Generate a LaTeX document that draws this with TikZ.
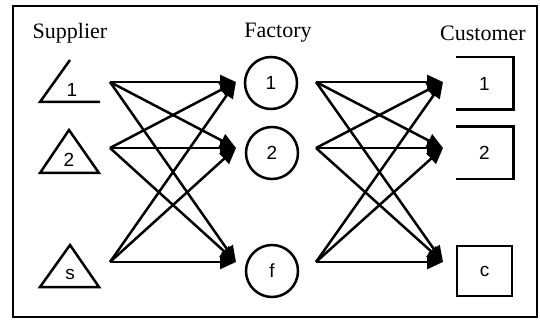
\documentclass[tikz,border=0pt]{standalone}
\usepackage{fontspec}
\setmainfont{Liberation Serif}
\newfontfamily\numfont{Liberation Sans}
\usetikzlibrary{arrows.meta,positioning}

\begin{document}
\begin{tikzpicture}[x=0.5pt, y=-0.5pt, line width=1.25pt,
    flow/.style={-{Triangle[length=8pt,width=7pt]}},
    head/.style={font=\fontsize{11}{13}\selectfont},
    lbl/.style={font=\numfont\fontsize{9.5}{11}\selectfont},
    fac/.style={circle,draw,minimum size=26pt,inner sep=0pt,lbl},
    cus/.style={rectangle,minimum width=27.5pt,minimum height=25pt,inner sep=0pt,lbl}]
\useasboundingbox (0,0) rectangle (540,320);
\draw (13,6) rectangle (537,317);

% column titles
\node[head] (tsup) at (70,33) {Supplier};
\node[head] (tfac) at (278,33) {Factory};
\node[head] (tcus) at (483,33) {Customer};

% suppliers (the first one is only partly printed)
\draw (70,60) -- (40,102) -- (100,102);
\draw (69,130) -- (40,173) -- (99,173) -- cycle;
\draw (70,245) -- (40,287) -- (99,287) -- cycle;
\node[lbl] (sup1) at (72,90) {1};
\node[lbl] (sup2) at (69,160) {2};
\node[lbl] (sups) at (70,274) {s};

% factories
\node[fac] (fac1) at (271,83) {\raisebox{-2pt}{1}};
\node[fac] (fac2) at (272,153) {\raisebox{-2pt}{2}};
\node[fac] (facf) at (272,271) {\raisebox{-2pt}{f}};

% customers
\node[cus] (cus1) at (484.5,83.5) {\raisebox{-2pt}{1}};
\node[cus] (cus2) at (484.5,153) {\raisebox{-3pt}{2}};
\node[cus,draw] (cusc) at (484.5,271) {\raisebox{-2pt}{c}};
\foreach \c in {cus1,cus2}
    \draw (\c.north west) -- (\c.north east) -- (\c.south east) -- (\c.south west);

% ports where the arrows meet
\foreach \n/\y in {1/82,2/148,3/262} {
    \coordinate (so\n) at (110,\y);
    \coordinate (fi\n) at (236,\y);
    \coordinate (fo\n) at (316,\y);
    \coordinate (ci\n) at (443,\y);
}

\foreach \a in {1,2,3} {
    \foreach \b in {1,2,3} {
        \draw[flow] (so\a) -- (fi\b);
        \draw[flow] (fo\a) -- (ci\b);
    }
}
\end{tikzpicture}
\end{document}
